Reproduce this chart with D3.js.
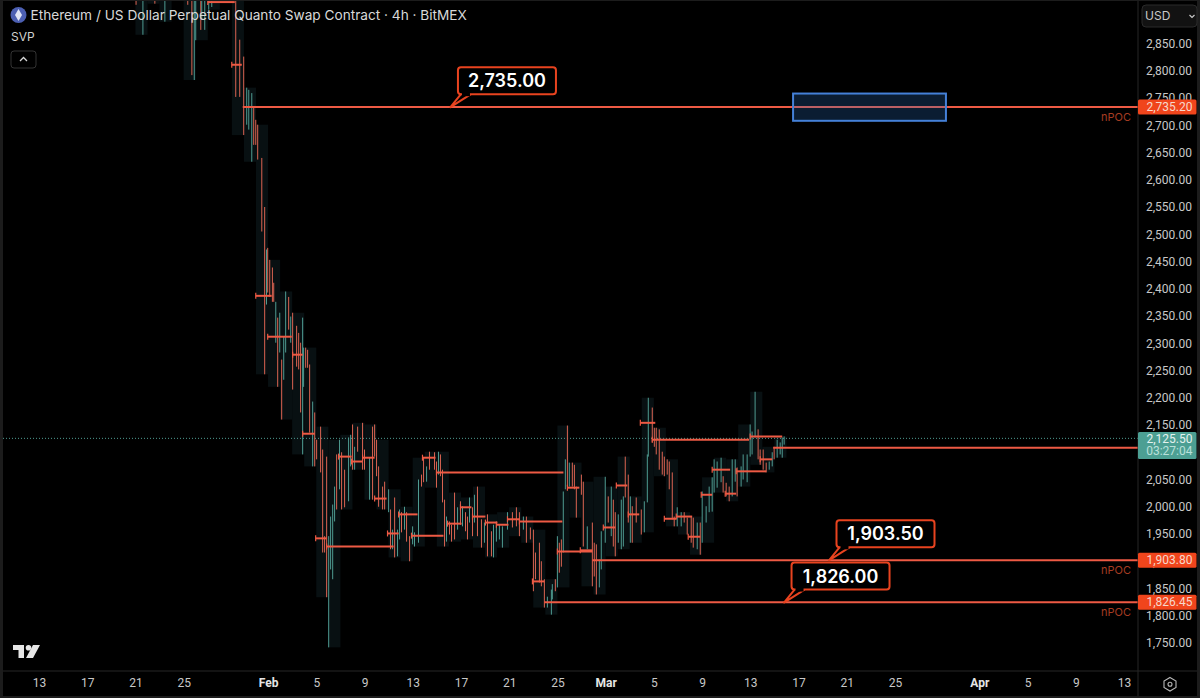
<!DOCTYPE html>
<html lang="en">
<head>
<meta charset="UTF-8">
<title>ETH perpetual 4h</title>
<script src="https://d3js.org/d3.v7.min.js"></script>
<style>
    body { margin: 0; background: #1c1c1c; overflow: hidden; }
    svg { display: block; font-family: Inter, sans-serif; }
    .axis text { fill: #c8c8c8; font-size: 12px; font-family: Roboto, sans-serif; }
    .tag { font-family: Roboto, sans-serif; font-size: 12px; }
</style>
</head>
<body>
<svg width="1200" height="698"></svg>
<script>
// day number counted from Jan 1 2025 (32 = Feb 1, 60 = Mar 1)
// [day, high, low, up]
const bars = [
    [21.05,2950,2921,0],[21.62,2950,2866,1],[22.61,2950,2923,0],[23.44,2950,2890,1],[25.34,2950,2921,0],
    [25.68,2950,2792,0],[25.88,2950,2783,1],[26.0,2950,2856,1],[26.42,2950,2875,0],[26.5,2950,2893,1],
    [26.75,2950,2875,1],[27.08,2950,2912,1],[27.33,2950,2917,1],[29.32,2950,2752,0],[29.65,2857,2752,0],
    [29.98,2826,2682,0],[30.23,2769,2701,1],[30.4,2765,2692,1],[30.65,2759,2633,1],[30.81,2734,2664,0],
    [30.98,2710,2664,0],[31.14,2701,2637,0],[31.48,2640,2505,0],[31.72,2550,2243,0],[31.87,2472,2371,1],
    [31.97,2475,2393,0],[32.14,2453,2385,0],[32.36,2439,2376,0],[32.47,2411,2376,0],[32.64,2376,2301,1],
    [32.8,2347,2220,0],[32.97,2356,2283,1],[33.13,2270,2160,0],[33.3,2312,2233,1],[33.46,2395,2283,1],
    [33.71,2385,2325,0],[33.88,2349,2301,1],[34.04,2356,2215,0],[34.37,2332,2257,0],[34.54,2319,2252,0],
    [34.7,2301,2173,0],[34.87,2347,2096,1],[34.95,2292,2220,1],[35.12,2292,2255,0],[35.28,2288,2255,0],
    [35.45,2261,2136,0],[35.7,2193,2074,1],[35.87,2173,2074,0],[36.03,2123,2087,0],[36.36,2147,2063,0],
    [36.53,2105,1916,0],[36.69,1946,1916,0],[36.86,2092,1834,0],[37.03,1946,1742,1],[37.19,1982,1885,1],
    [37.36,2004,1867,1],[37.52,2037,1973,1],[37.69,2096,1995,0],[37.93,2123,2032,1],[38.1,2100,1995,0],
    [38.35,2068,1999,0],[38.68,2127,2010,1],[38.85,2132,2074,1],[39.01,2151,2068,0],[39.18,2110,2068,1],
    [39.43,2147,2101,0],[39.84,2154,2068,0],[40.0,2105,2068,0],[40.42,2090,2013,1],[40.67,2147,2013,0],
    [40.84,2151,2092,0],[41.0,2123,2056,0],[41.17,2074,2000,0],[41.5,2037,1995,0],[41.67,2046,1995,0],
    [42.0,2032,1990,1],[42.16,1995,1922,0],[42.33,1958,1922,1],[42.5,2017,1907,0],[42.74,1958,1909,1],
    [42.91,1995,1940,1],[43.07,1990,1953,0],[43.32,2000,1958,1],[43.49,1990,1936,0],[43.74,1946,1900,0],
    [43.99,1964,1931,1],[44.15,1953,1927,1],[44.48,2050,1934,1],[44.73,2059,2037,0],[44.9,2090,2045,0],
    [45.15,2074,2046,1],[45.39,2101,2068,0],[45.81,2100,2068,0],[45.97,2083,2035,0],[46.14,2101,2059,1],
    [46.3,2096,2056,0],[46.47,2068,2008,0],[46.64,2013,1927,0],[46.8,1982,1936,1],[47.05,1973,1949,0],
    [47.22,1967,1936,0],[47.47,2026,1940,0],[47.72,1999,1958,1],[47.96,2010,1967,0],[48.13,2001,1964,1],
    [48.38,1990,1955,0],[48.54,1982,1940,0],[48.71,2017,1971,1],[48.96,1999,1946,0],[49.12,2022,1971,1],
    [49.37,2037,1946,0],[49.7,1977,1925,0],[49.95,1971,1934,1],[50.2,1986,1909,0],[50.53,1955,1909,0],
    [50.7,1967,1907,1],[50.94,1973,1936,1],[51.19,1967,1940,1],[51.44,1964,1925,1],[51.86,1990,1958,1],
    [52.27,1990,1962,0],[52.6,1999,1964,0],[52.85,1990,1946,0],[53.18,1982,1958,1],[53.43,1982,1934,0],
    [53.76,1962,1940,0],[54.01,1958,1845,0],[54.18,1916,1867,0],[54.51,1934,1861,0],[54.67,1900,1854,0],
    [54.92,1867,1815,0],[55.17,1835,1815,1],[55.5,1848,1802,1],[55.58,1858,1830,1],[55.83,1867,1845,0],
    [56.0,1946,1852,1],[56.16,1934,1879,0],[56.33,1940,1890,0],[56.49,2028,1916,1],[56.66,2087,2032,1],
    [56.83,2149,2037,0],[56.99,2081,2037,1],[57.24,2081,2037,0],[57.41,2077,2032,0],[57.57,2037,1980,0],
    [57.99,2059,2022,0],[58.15,2046,1927,0],[58.48,1964,1922,1],[58.9,1971,1854,0],[59.06,1934,1872,0],
    [59.23,1931,1839,0],[59.48,1903,1852,1],[59.64,1955,1885,1],[59.97,2055,1934,1],[60.22,2019,1971,0],
    [60.47,2037,1946,1],[60.64,2013,1927,0],[60.8,1990,1909,0],[61.05,1986,1934,1],[61.3,2013,1922,1],
    [61.47,2019,1927,1],[61.63,2092,2017,0],[61.88,2059,1971,0],[62.05,2019,1934,1],[62.21,2001,1934,0],
    [62.54,2017,1971,0],[62.96,1995,1949,0],[63.21,2010,1953,1],[63.46,2096,2008,1],[63.54,2200,2092,1],
    [63.87,2182,2118,0],[64.04,2145,2110,0],[64.2,2145,2096,0],[64.45,2142,2068,0],[64.7,2101,2059,0],
    [64.87,2092,2056,0],[65.11,2087,2059,0],[65.28,2083,2032,0],[65.53,2063,1977,0],[65.69,1982,1964,0],
    [65.94,1999,1964,1],[66.27,1990,1964,1],[66.52,1990,1971,0],[66.77,1980,1949,0],[67.1,1982,1934,0],
    [67.27,1980,1925,0],[67.6,1971,1922,1],[67.85,1971,1912,0],[68.01,2028,1934,1],[68.34,2001,1971,1],
    [68.59,2037,1990,1],[68.84,2054,1991,1],[69.0,2087,2026,1],[69.25,2083,2035,1],[69.58,2090,2045,1],
    [69.75,2056,2026,0],[70.0,2044,2019,0],[70.25,2037,2010,0],[70.5,2087,2019,1],[70.75,2087,2046,1],
    [70.91,2072,2019,0],[71.24,2074,2037,1],[71.41,2096,2050,1],[71.74,2096,2045,1],[71.99,2151,2092,1],
    [72.15,2138,2096,1],[72.4,2211,2127,1],[72.65,2142,2087,0],[72.82,2105,2077,0],[73.07,2105,2068,0],
    [73.32,2081,2063,0],[73.57,2083,2068,1],[73.82,2100,2074,1],[73.98,2110,2087,0],[74.23,2123,2090,1],
    [74.48,2118,2096,1],[74.65,2127,2090,1],[74.81,2129,2114,1]
];

// [start day, end day, price] daily point of control
const pocLines = [
    [27.0,29.24,2926],[28.99,29.82,2811],[30.98,32.3,2387],[31.97,33.96,2312],[34.04,34.87,2279],
    [34.87,35.87,2134],[35.95,36.86,1942],[36.86,42.41,1927],[37.85,38.93,2092],[38.93,39.84,2083],
    [39.84,40.84,2090],[40.84,41.83,2015],[41.91,42.83,1951],[42.83,44.4,1986],[43.9,46.55,1947],
    [44.81,45.89,2090],[45.97,56.5,2063],[46.89,48.05,1969],[47.96,48.87,1999],[48.96,50.03,1982],
    [50.03,51.03,1971],[50.94,51.94,1967],[51.86,52.85,1977],[52.85,56.41,1973],[53.93,54.92,1863],
    [56.0,58.9,1918],[56.83,57.82,2035],[57.9,58.9,1920],[59.81,60.8,1962],[60.89,61.8,2039],
    [61.88,62.79,1986],[62.88,64.12,2154],[63.87,71.9,2123],[71.99,74.65,2129],[64.87,65.86,1978],
    [65.86,67.18,1982],[66.85,67.85,1945],[67.93,68.84,2022],[68.84,70.33,2068],[69.92,70.83,2024],
    [70.83,73.32,2065],[72.82,73.82,2087]
];

// [start day, price] naked POCs, these run on to the price axis
const openPocs = [[29.9,2735.2],[73.9,2110],[58.9,1903.8],[54.92,1826.45]];
const npocPrices = [2735.2,1903.8,1826.45];

// [tip day, tip price, text]
const callouts = [[47.13,2735,"2,735.00"],[78.53,1903.5,"1,903.50"],[74.8,1826,"1,826.00"]];

const targetBox = {from: 75.55, to: 88.23, top: 2760, bottom: 2710};
const lastPrice = 2125.5;
const countdown = "03:27:04";

// 2,100.00 sits behind the last price tag
const yTicks = [1750,1800,1850,1900,1950,2000,2050,2150,2200,2250,2300,2350,2400,2450,2500,2550,2600,2650,2700,2750,2800,2850];
const xTickDays = [13,17,21,25,32,36,40,44,48,52,56,60,64,68,72,76,80,84,91,95,99,103];
const xTickLabels = ["13","17","21","25","Feb","5","9","13","17","21","25","Mar","5","9","13","17","21","25","Apr","5","9","13"];

const RED = "#dc6452", TEAL = "#4f9c92", LINE = "#ee5a44", TAG = "#f0451c";

const toDate = d => new Date(Date.UTC(2025, 0, 1) + (d - 1) * 864e5);
const x = d3.scaleUtc().domain([toDate(13), toDate(103)]).range([39, 1124]);
const y = d3.scaleLinear().domain([1750, 2850]).range([643, 43.5]);
const xd = d => x(toDate(d));
// axis labels sit a pixel above the levels they name
const yLevel = p => y(p) + 1;

const svg = d3.select("svg");
svg.append("rect").attr("x", 3).attr("y", 1).attr("width", 1194).attr("height", 695).attr("fill", "#000");
svg.append("defs").append("clipPath").attr("id", "plot").append("rect")
    .attr("x", 3).attr("y", 1).attr("width", 1135).attr("height", 670);

const plot = svg.append("g").attr("clip-path", "url(#plot)");

// session volume profile backgrounds, one per day
const days = d3.rollups(bars, v => [d3.max(v, b => b[1]), d3.min(v, b => b[2])], b => Math.floor(b[0]));
plot.append("g").selectAll("rect").data(days).join("rect")
    .attr("x", d => xd(d[0]))
    .attr("width", d => xd(d[0] + 1) - xd(d[0]))
    .attr("y", d => y(d[1][0]))
    .attr("height", d => y(d[1][1]) - y(d[1][0]))
    .attr("fill", "#081012");

// last price
plot.append("line")
    .attr("x1", 3).attr("x2", 1138).attr("y1", y(lastPrice)).attr("y2", y(lastPrice))
    .attr("stroke", "#4f9c92").attr("stroke-dasharray", "1 2");

plot.append("g").selectAll("line").data(bars).join("line")
    .attr("x1", d => xd(d[0])).attr("x2", d => xd(d[0]))
    .attr("y1", d => y(d[1])).attr("y2", d => y(d[2]))
    .attr("stroke", d => d[3] ? TEAL : RED)
    .attr("stroke-width", 1);

const pocs = plot.append("g");
pocs.selectAll("line.seg").data(pocLines).join("line").attr("class", "seg")
    .attr("x1", d => xd(d[0])).attr("x2", d => xd(d[1]))
    .attr("y1", d => y(d[2])).attr("y2", d => y(d[2]))
    .attr("stroke", LINE).attr("stroke-width", 2);
pocs.selectAll("line.cap").data(pocLines).join("line").attr("class", "cap")
    .attr("x1", d => xd(d[0])).attr("x2", d => xd(d[0]))
    .attr("y1", d => y(d[2]) - 3).attr("y2", d => y(d[2]) + 3)
    .attr("stroke", LINE).attr("stroke-width", 1.2);
pocs.selectAll("line.open").data(openPocs).join("line").attr("class", "open")
    .attr("x1", d => xd(d[0])).attr("x2", 1138)
    .attr("y1", d => yLevel(d[1])).attr("y2", d => yLevel(d[1]))
    .attr("stroke", LINE).attr("stroke-width", 2);

// blue rectangle sits over the line
plot.append("rect")
    .attr("x", xd(targetBox.from)).attr("width", xd(targetBox.to) - xd(targetBox.from))
    .attr("y", yLevel(targetBox.top)).attr("height", y(targetBox.bottom) - y(targetBox.top))
    .attr("fill", "#2a6fc0").attr("fill-opacity", 0.26)
    .attr("stroke", "#4480d8").attr("stroke-width", 2);

plot.append("g").selectAll("text").data(npocPrices).join("text")
    .attr("x", 1131).attr("y", d => yLevel(d) + 14)
    .attr("text-anchor", "end").attr("font-size", 11).attr("fill", "#a63c22")
    .text("nPOC");

// callouts: box sits up and to the right of the tip
const cw = 98, ch = 27;
callouts.forEach(c => {
    const tx = xd(c[0]), ty = yLevel(c[1]);
    const bx = tx + 7.5, by = ty - 40;
    const g = svg.append("g");
    g.append("path")
        .attr("d", `M${bx + 3},${by + ch} L${tx},${ty} L${bx + 13},${by + ch}`)
        .attr("fill", "#000").attr("stroke", "#e8431f").attr("stroke-width", 2).attr("stroke-linejoin", "round");
    g.append("rect")
        .attr("x", bx).attr("y", by).attr("width", cw).attr("height", ch).attr("rx", 3)
        .attr("fill", "#000").attr("stroke", "#e8431f").attr("stroke-width", 2);
    g.append("rect")
        .attr("x", bx + 4).attr("y", by + ch - 2).attr("width", 8).attr("height", 4).attr("fill", "#000");
    g.append("text")
        .attr("x", bx + cw / 2).attr("y", by + 20)
        .attr("text-anchor", "middle").attr("font-size", 18).attr("font-weight", 600).attr("fill", "#fff")
        .text(c[2]);
});

// axes
const yAxis = d3.axisRight(y).tickValues(yTicks).tickSize(0).tickPadding(0).tickFormat(d3.format(",.2f"));
const gy = svg.append("g").attr("class", "axis").attr("transform", "translate(1146,0)").call(yAxis);
gy.select(".domain").remove();

const xAxis = d3.axisBottom(x).tickValues(xTickDays.map(toDate)).tickSize(0).tickPadding(0)
    .tickFormat((d, i) => xTickLabels[i]);
const gx = svg.append("g").attr("class", "axis").attr("transform", "translate(0,678)").call(xAxis);
gx.select(".domain").remove();
gx.selectAll("text")
    .style("font-weight", (d, i) => /[A-Z]/.test(xTickLabels[i]) ? 700 : 400)
    .style("fill", (d, i) => /[A-Z]/.test(xTickLabels[i]) ? "#e6e6e6" : "#c8c8c8");

svg.append("line").attr("x1", 1138).attr("x2", 1138).attr("y1", 1).attr("y2", 696).attr("stroke", "#262626");
svg.append("line").attr("x1", 3).attr("x2", 1197).attr("y1", 671).attr("y2", 671).attr("stroke", "#262626");

// price tags
const tags = [[2735.2, "2,735.20"], [1903.8, "1,903.80"], [1826.45, "1,826.45"]];
tags.forEach(t => {
    svg.append("rect").attr("x", 1138).attr("y", yLevel(t[0]) - 7.5).attr("width", 58.5).attr("height", 15)
        .attr("rx", 1.5).attr("fill", TAG);
    svg.append("text").attr("class", "tag").attr("x", 1192.5).attr("y", yLevel(t[0]) + 4).attr("text-anchor", "end")
        .attr("fill", "#f6d8cc").text(t[1]);
});
svg.append("rect").attr("x", 1138).attr("y", 432).attr("width", 58.5).attr("height", 27)
    .attr("rx", 1.5).attr("fill", "#4c9f93");
svg.append("text").attr("class", "tag").attr("x", 1192.5).attr("y", 442.5).attr("text-anchor", "end")
    .attr("fill", "#e4f2ef").text(d3.format(",.2f")(lastPrice));
svg.append("text").attr("class", "tag").attr("x", 1192.5).attr("y", 455).attr("text-anchor", "end")
    .attr("fill", "#b9e0da").text(countdown);

// header
svg.append("circle").attr("cx", 18.5).attr("cy", 15).attr("r", 8).attr("fill", "#4c5fb2");
svg.append("path").attr("d", "M18.5,9 L22,15 L18.5,21 L15,15 Z").attr("fill", "#dfe4f5");
svg.append("text").attr("x", 30.5).attr("y", 20).attr("font-size", 13.65).attr("fill", "#d8d8d8")
    .text("Ethereum / US Dollar Perpetual Quanto Swap Contract · 4h · BitMEX");
svg.append("text").attr("x", 11).attr("y", 41).attr("font-size", 12).attr("fill", "#d0d0d0").text("SVP");
svg.append("rect").attr("x", 11).attr("y", 51).attr("width", 25).attr("height", 17).attr("rx", 3)
    .attr("fill", "#000").attr("stroke", "#333");
svg.append("path").attr("d", "M20,61 L23.5,57.5 L27,61").attr("fill", "none").attr("stroke", "#d8d8d8").attr("stroke-width", 1.3);

// currency dropdown
svg.append("rect").attr("x", 1142).attr("y", 5).attr("width", 55).attr("height", 22).attr("rx", 4)
    .attr("fill", "#121212").attr("stroke", "#2a2a2a");
svg.append("text").attr("x", 1145).attr("y", 20).attr("font-size", 12).attr("fill", "#c8c8c8").text("USD");
svg.append("path").attr("d", "M1189.5,15 L1192,17.5 L1194.5,15").attr("fill", "none").attr("stroke", "#c8c8c8").attr("stroke-width", 1.2);

// logo
const logo = svg.append("g").attr("fill", "#e6e6e6");
logo.append("path").attr("d", "M13,645 H24 V658 H18.5 V650 H13 Z");
logo.append("circle").attr("cx", 28.5).attr("cy", 647.8).attr("r", 2.8);
logo.append("path").attr("d", "M33,645 H40 L33,658 H26 Z");

// settings icon
svg.append("path").attr("d", "M1170,677.5 L1176,681 V687.5 L1170,691 L1164,687.5 V681 Z")
    .attr("fill", "none").attr("stroke", "#b8b8b8").attr("stroke-width", 1.1);
svg.append("circle").attr("cx", 1170).attr("cy", 684.2).attr("r", 2).attr("fill", "none").attr("stroke", "#b8b8b8").attr("stroke-width", 1.1);
</script>
</body>
</html>
